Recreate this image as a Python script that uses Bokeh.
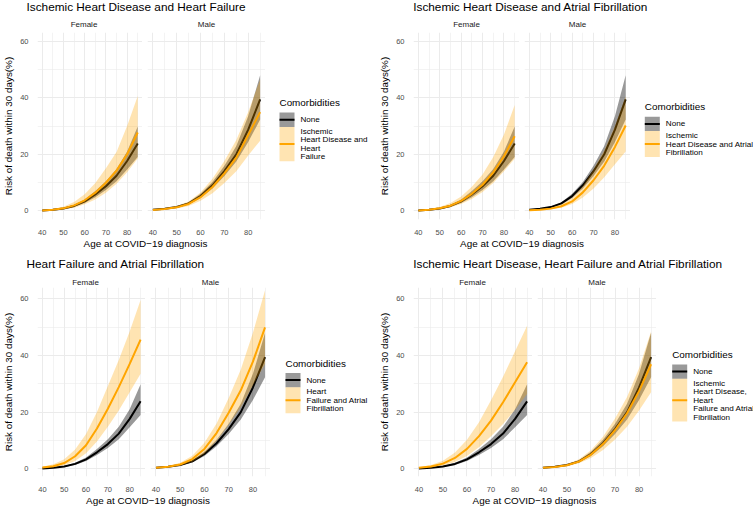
from bokeh.plotting import figure
from bokeh.layouts import row, column
from bokeh.models import Range1d, FixedTicker
from bokeh.core.properties import value
from bokeh.embed import file_html
from bokeh.resources import INLINE

FONT = "Liberation Sans"

# ---------------- data ----------------
ages = [40, 45, 50, 55, 60, 65, 70, 75, 80, 85]
sexes = ["Female", "Male"]
x_ticks = [40, 50, 60, 70, 80]
x_minor = [45, 55, 65, 75, 85]
y_ticks = [0, 20, 40, 60]
y_minor = [10, 30, 50]
legend_title = "Comorbidities"
none_label = "None"
x_title = "Age at COVID\u221219 diagnosis"
y_title = "Risk of death within 30 days(%)"

titles = [
    "Ischemic Heart Disease and Heart Failure",
    "Ischemic Heart Disease and Atrial Fibrillation",
    "Heart Failure and Atrial Fibrillation",
    "Ischemic Heart Disease, Heart Failure and Atrial Fibrillation",
]
group_labels = [
    ["Ischemic", "Heart Disease and", "Heart", "Failure"],
    ["Ischemic", "Heart Disease and Atrial", "Fibrillation"],
    ["Heart", "Failure and Atrial", "Fibrillation"],
    ["Ischemic", "Heart Disease,", "Heart", "Failure and Atrial", "Fibrillation"],
]

# reference group (no comorbidities)
none_f_mid = [0.1, 0.35, 0.8, 1.7, 3.3, 5.8, 8.7, 12.4, 17.6, 23.8]
none_f_lo = [0.05, 0.25, 0.6, 1.3, 2.7, 4.8, 7.3, 10.4, 14.6, 19.0]
none_f_hi = [0.15, 0.45, 1.0, 2.1, 4.0, 7.0, 10.4, 14.8, 21.0, 29.8]
none_m_mid = [0.35, 0.7, 1.3, 2.6, 5.2, 9.0, 14.0, 20.0, 28.7, 39.4]
none_m_lo = [0.25, 0.55, 1.1, 2.2, 4.5, 7.9, 12.3, 17.4, 24.3, 32.3]
none_m_hi = [0.45, 0.85, 1.5, 3.0, 6.0, 10.2, 15.9, 22.9, 33.5, 48.0]

# Ischemic Heart Disease and Heart Failure
ihd_hf_f_mid = [0.1, 0.35, 0.85, 1.9, 3.7, 6.4, 9.9, 14.2, 20.0, 27.7]
ihd_hf_f_lo = [0.05, 0.2, 0.5, 1.1, 2.3, 4.0, 6.4, 9.6, 13.6, 18.5]
ihd_hf_f_hi = [0.2, 0.6, 1.4, 3.1, 5.8, 9.8, 15.0, 20.8, 30.0, 40.6]
ihd_hf_m_mid = [0.3, 0.6, 1.2, 2.4, 4.8, 8.4, 13.2, 18.8, 26.8, 34.9]
ihd_hf_m_lo = [0.2, 0.4, 0.8, 1.7, 3.5, 6.2, 9.8, 14.0, 19.6, 24.8]
ihd_hf_m_hi = [0.45, 0.9, 1.7, 3.3, 6.5, 11.3, 17.6, 25.0, 35.0, 46.5]

# Ischemic Heart Disease and Atrial Fibrillation
ihd_af_f_mid = [0.1, 0.35, 0.85, 1.8, 3.5, 6.0, 9.2, 13.6, 19.3, 26.4]
ihd_af_f_lo = [0.05, 0.2, 0.55, 1.2, 2.4, 4.2, 6.6, 9.8, 14.0, 18.4]
ihd_af_f_hi = [0.2, 0.55, 1.3, 2.7, 5.0, 8.5, 12.8, 19.0, 27.0, 37.4]
ihd_af_m_mid = [0.15, 0.35, 0.75, 1.6, 3.3, 6.5, 10.8, 16.0, 22.6, 30.2]
ihd_af_m_lo = [0.1, 0.25, 0.5, 1.1, 2.4, 4.7, 7.9, 11.9, 16.5, 21.0]
ihd_af_m_hi = [0.25, 0.5, 1.05, 2.3, 4.6, 8.8, 14.6, 21.3, 30.0, 40.5]

# Heart Failure and Atrial Fibrillation
hf_af_f_mid = [0.4, 0.9, 2.0, 4.4, 8.3, 14.2, 21.2, 28.8, 37.0, 45.6]
hf_af_f_lo = [0.2, 0.5, 1.2, 2.7, 5.5, 9.6, 14.8, 20.6, 27.0, 33.5]
hf_af_f_hi = [0.7, 1.6, 3.3, 6.8, 12.3, 20.0, 29.2, 38.4, 48.5, 59.6]
hf_af_m_mid = [0.3, 0.7, 1.5, 3.4, 7.0, 12.6, 19.8, 27.7, 37.8, 49.9]
hf_af_m_lo = [0.2, 0.5, 1.1, 2.5, 5.3, 9.8, 15.5, 21.8, 29.5, 37.0]
hf_af_m_hi = [0.45, 1.0, 2.1, 4.6, 9.2, 16.0, 25.0, 35.0, 48.0, 63.0]

# Ischemic Heart Disease, Heart Failure and Atrial Fibrillation
all3_f_mid = [0.3, 0.8, 1.8, 3.8, 7.0, 11.5, 17.0, 23.5, 30.5, 37.6]
all3_f_lo = [0.15, 0.45, 1.1, 2.4, 4.5, 7.6, 11.5, 15.8, 20.8, 26.4]
all3_f_hi = [0.5, 1.3, 2.8, 5.7, 10.2, 16.4, 24.2, 32.5, 41.5, 50.5]
all3_m_mid = [0.3, 0.6, 1.2, 2.5, 5.0, 8.7, 13.6, 19.6, 27.4, 36.9]
all3_m_lo = [0.2, 0.45, 0.9, 1.9, 3.8, 6.6, 10.3, 14.8, 20.6, 27.0]
all3_m_hi = [0.4, 0.8, 1.6, 3.3, 6.5, 11.3, 17.7, 25.3, 35.5, 48.5]

group_data = [
    {"Female": (ihd_hf_f_mid, ihd_hf_f_lo, ihd_hf_f_hi), "Male": (ihd_hf_m_mid, ihd_hf_m_lo, ihd_hf_m_hi)},
    {"Female": (ihd_af_f_mid, ihd_af_f_lo, ihd_af_f_hi), "Male": (ihd_af_m_mid, ihd_af_m_lo, ihd_af_m_hi)},
    {"Female": (hf_af_f_mid, hf_af_f_lo, hf_af_f_hi), "Male": (hf_af_m_mid, hf_af_m_lo, hf_af_m_hi)},
    {"Female": (all3_f_mid, all3_f_lo, all3_f_hi), "Male": (all3_m_mid, all3_m_lo, all3_m_hi)},
]
none_data = {"Female": (none_f_mid, none_f_lo, none_f_hi), "Male": (none_m_mid, none_m_lo, none_m_hi)}

# ---------------- styles / layout ----------------
BLACK = "#000000"
ORANGE = "#FFA500"
GRID = "#EBEBEB"
LW = 2.0
X_RANGE = (37.75, 87.25)
BOTTOM = 13
GAP = 5
LEG_STRETCH = 1.08

layouts = [
    dict(QW=376, header=32, fem_left=25, fem_fw=117, male_fw=118, frame_h=192, footer=16,
         title_x=26, title_y=6, strip_y=24, xlab_y=5.6, leg_x=14, yr=(-3.1, 63.1)),
    dict(QW=377, header=32, fem_left=37, fem_fw=106, male_fw=106, frame_h=192, footer=16,
         title_x=36.7, title_y=6, strip_y=24, xlab_y=5.6, leg_x=14.3, yr=(-3.1, 63.1)),
    dict(QW=376, header=34, fem_left=25, fem_fw=120, male_fw=120, frame_h=194, footer=12,
         title_x=26, title_y=10, strip_y=29, xlab_y=6.2, leg_x=15, yr=(-2.75, 64.0)),
    dict(QW=377, header=34, fem_left=36, fem_fw=120, male_fw=119, frame_h=194, footer=12,
         title_x=36.7, title_y=10, strip_y=29, xlab_y=6.2, leg_x=15.7, yr=(-2.75, 64.0)),
]


def decor(width, height, ytop=0.0, ybottom=None):
    if ybottom is None:
        ybottom = height
    p = figure(width=width, height=height, x_range=Range1d(0, width), y_range=Range1d(ybottom, ytop),
               x_axis_type=None, y_axis_type=None, toolbar_location=None, output_backend="svg",
               min_border=0)
    p.outline_line_color = None
    p.background_fill_color = "white"
    p.border_fill_color = "white"
    return p


def add_text(p, xs, ys, texts, size, align="left", color="black"):
    p.text(x=xs, y=ys, text=texts, text_font=value(FONT), text_font_size=value(size),
           text_align=value(align), text_baseline=value("middle"), text_color=color)


def facet(sex, gdata, cfg, show_y):
    left = cfg["fem_left"] if show_y else GAP
    fw = cfg["fem_fw"] if show_y else cfg["male_fw"]
    p = figure(width=left + fw, height=cfg["frame_h"] + BOTTOM,
               x_range=Range1d(*X_RANGE), y_range=Range1d(*cfg["yr"]),
               toolbar_location=None, output_backend="svg",
               min_border_left=left, min_border_right=0, min_border_top=0, min_border_bottom=BOTTOM)
    p.outline_line_color = None
    p.background_fill_color = "white"
    p.border_fill_color = "white"
    p.xaxis.ticker = FixedTicker(ticks=x_ticks, minor_ticks=x_minor)
    p.yaxis.ticker = FixedTicker(ticks=y_ticks, minor_ticks=y_minor)
    p.xgrid.ticker = FixedTicker(ticks=x_ticks, minor_ticks=x_minor)
    p.ygrid.ticker = FixedTicker(ticks=y_ticks, minor_ticks=y_minor)
    for g in (p.xgrid, p.ygrid):
        g.grid_line_color = GRID
        g.grid_line_width = 1
        g.minor_grid_line_color = GRID
        g.minor_grid_line_width = 0.6
    for ax in (p.xaxis, p.yaxis):
        ax.axis_line_color = None
        ax.major_tick_line_color = None
        ax.minor_tick_line_color = None
        ax.major_label_text_font = FONT
        ax.major_label_text_font_size = "7.5px"
        ax.major_label_text_color = "#4D4D4D"
    p.xaxis.major_label_standoff = 4
    p.yaxis.major_label_standoff = 3
    if show_y:
        p.yaxis.axis_label = y_title
        p.yaxis.axis_label_text_font = FONT
        p.yaxis.axis_label_text_font_size = "9.9px"
        p.yaxis.axis_label_text_font_style = "normal"
        p.yaxis.axis_label_text_color = "black"
        p.yaxis.axis_label_standoff = 3
    else:
        p.yaxis.visible = False

    n_mid, n_lo, n_hi = none_data[sex]
    g_mid, g_lo, g_hi = gdata[sex]
    p.varea(x=ages, y1=n_lo, y2=n_hi, fill_color=BLACK, fill_alpha=0.4)
    p.line(x=ages, y=n_mid, line_color=BLACK, line_width=LW)
    p.varea(x=ages, y1=g_lo, y2=g_hi, fill_color=ORANGE, fill_alpha=0.3)
    p.line(x=ages, y=g_mid, line_color=ORANGE, line_width=LW)
    return p


def legend_fig(width, height, cfg, labels):
    # vertical range compressed so that legend rows land where the reference has them
    p = decor(width, height, 0.0, height / LEG_STRETCH)
    n = len(labels)
    line_h = 8.6
    fc = cfg["frame_h"] / 2
    ty = fc + 2 - 9.5 - 4.3 * n
    lx = cfg["leg_x"]
    kw = 15
    add_text(p, [lx], [ty], [legend_title], "9.9px")
    k0 = ty + 10
    k1 = k0 + 14.5
    k2 = k1 + line_h * n + 0.5
    p.quad(left=[lx], right=[lx + kw], top=[k0], bottom=[k1], fill_color=BLACK, fill_alpha=0.4, line_color=None)
    p.segment(x0=[lx], x1=[lx + kw], y0=[(k0 + k1) / 2], y1=[(k0 + k1) / 2], line_color=BLACK, line_width=LW)
    p.quad(left=[lx], right=[lx + kw], top=[k1], bottom=[k2], fill_color=ORANGE, fill_alpha=0.3, line_color=None)
    p.segment(x0=[lx], x1=[lx + kw], y0=[(k1 + k2) / 2], y1=[(k1 + k2) / 2], line_color=ORANGE, line_width=LW)
    add_text(p, [lx + 21], [(k0 + k1) / 2], [none_label], "8.1px")
    add_text(p, [lx + 21] * n, [k1 + 4.6 + line_h * i for i in range(n)], labels, "8.1px")
    return p


def quadrant(i):
    cfg = layouts[i]
    fem = facet("Female", group_data[i], cfg, True)
    male = facet("Male", group_data[i], cfg, False)
    fem_w = cfg["fem_left"] + cfg["fem_fw"]
    male_w = GAP + cfg["male_fw"]
    leg_w = cfg["QW"] - fem_w - male_w
    fh = cfg["frame_h"] + BOTTOM
    leg = legend_fig(leg_w, fh, cfg, group_labels[i])

    head = decor(cfg["QW"], cfg["header"])
    add_text(head, [cfg["title_x"]], [cfg["title_y"]], [titles[i]], "11.8px")
    fem_c = cfg["fem_left"] + cfg["fem_fw"] / 2
    male_c = fem_w + GAP + cfg["male_fw"] / 2
    add_text(head, [fem_c, male_c], [cfg["strip_y"]] * 2, sexes, "8px", align="center", color="#1A1A1A")

    foot = decor(cfg["QW"], cfg["footer"])
    xc = (cfg["fem_left"] + fem_w + male_w) / 2
    add_text(foot, [xc], [cfg["xlab_y"]], [x_title], "9.9px", align="center")

    return column(head, row(fem, male, leg), foot)


layout = column(row(quadrant(0), quadrant(1)), row(quadrant(2), quadrant(3)))

open("out.html", "w").write(file_html(layout, INLINE))
